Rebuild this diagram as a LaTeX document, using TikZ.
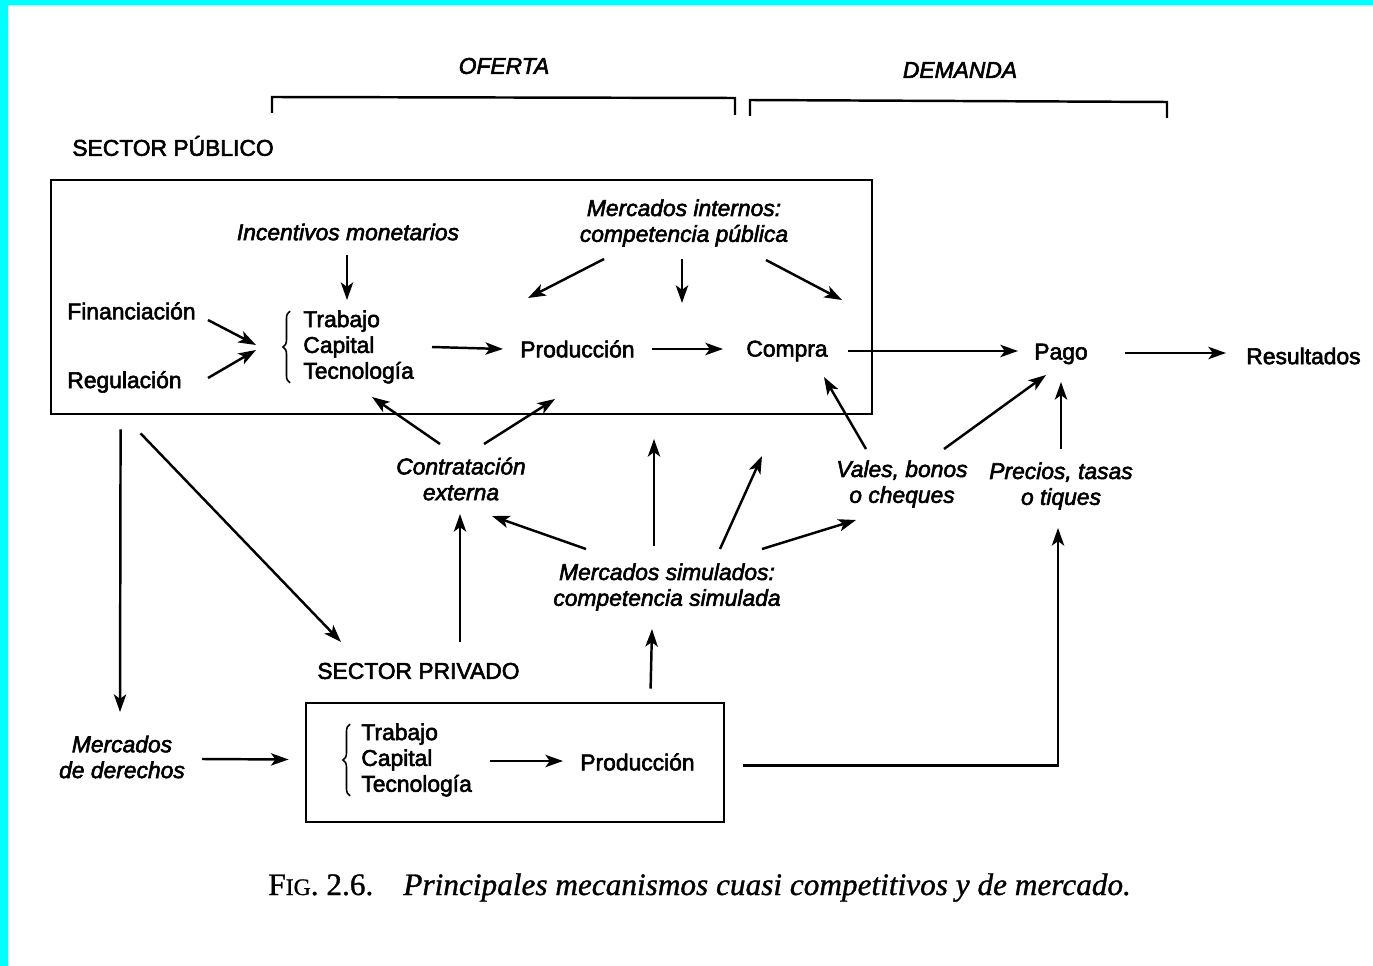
\documentclass[tikz,border=0pt]{standalone}
\usepackage{fontspec}
\setmainfont{Liberation Sans}[RawFeature={embolden=2.5}]
\newfontfamily\capfont{Liberation Serif}[RawFeature={embolden=1}]
\usetikzlibrary{arrows.meta,calc,fit,decorations.pathreplacing}
\definecolor{edge}{RGB}{0,255,255}

\begin{document}
\begin{tikzpicture}[x=0.02cm, y=-0.02cm,
    font=\fontsize{13pt}{14.7pt}\selectfont,
    txt/.style={inner sep=0pt},
    itx/.style={inner sep=0pt, align=center, font=\fontsize{13pt}{14.7pt}\selectfont\itshape},
    arr/.style={line width=1.4pt, -{Stealth[length=10pt,width=7pt,inset=2.5pt]}},
    box/.style={draw, line width=1.6pt, inner sep=0pt},
    brk/.style={line width=1.4pt},
    brc/.style={decorate, decoration={brace, amplitude=4pt}, line width=0.9pt}]
    \useasboundingbox (0,0) rectangle (1373,966);
    \fill[edge] (0,0) rectangle (1373,5);
    \fill[edge] (0,0) rectangle (8,966);

    \node[itx] (ofr) at (504,66) {OFERTA};
    \node[itx] (dem) at (960,70) {DEMANDA};
    \draw[brk] (272,113) -- (272,97) -- (735,98) -- (735,115);
    \draw[brk] (750,116) -- (750,100) -- (1167,102) -- (1167,118);

    \node[txt, anchor=west] (spub) at (72,146) {SECTOR PÚBLICO};
    \node[box, fit={(51,180) (872,414)}] (pub) {};
    \node[itx] (inc) at (348,232) {Incentivos monetarios};
    \node[itx] (mint) at (684,223) {Mercados internos:\\competencia pública};
    \node[txt, anchor=west] (fin) at (67,311) {Financiación};
    \node[txt, anchor=west] (reg) at (67,382) {Regulación};
    \node[txt, anchor=west, align=left] (tcap) at (303,347) {Trabajo\\Capital\\Tecnología};
    \draw[brc] ($(tcap.south west)+(-13,-1)$) -- ($(tcap.north west)+(-13,1)$);
    \node[txt, anchor=west] (prod) at (520,349) {Producción};
    \node[txt, anchor=west] (comp) at (746,351) {Compra};
    \node[txt] (pago) at (1061,354) {Pago};
    \node[txt, anchor=west] (res) at (1246,356) {Resultados};

    \node[itx] (cext) at (461,479) {Contratación\\externa};
    \node[itx] (vales) at (902,484) {Vales, bonos\\o cheques};
    \node[itx] (prec) at (1061,486) {Precios, tasas\\o tiques};
    \node[itx] (msim) at (667,587) {Mercados simulados:\\competencia simulada};

    \node[txt, anchor=west] (spriv) at (317,671) {SECTOR PRIVADO};
    \node[box, fit={(306,703) (724,822)}] (priv) {};
    \node[itx] (mder) at (122,757) {Mercados\\de derechos};
    \node[txt, anchor=west, align=left] (tcap2) at (361,760) {Trabajo\\Capital\\Tecnología};
    \draw[brc] ($(tcap2.south west)+(-11,-1)$) -- ($(tcap2.north west)+(-11,1)$);
    \node[txt, anchor=west] (prod2) at (580,762) {Producción};

    \draw[arr] ($(inc)+(-1,23)$) -- ($(tcap.west)+(44,-47)$);
    \draw[arr] ($(mint)+(-80,36)$) -- ($(prod.west)+(8,-51)$);
    \draw[arr] ($(mint)+(-2,36)$) -- ($(mint)+(-2,80)$);
    \draw[arr] ($(mint)+(82,37)$) -- ($(comp.west)+(96,-51)$);
    \draw[arr] ($(fin.west)+(141,9)$) -- ($(tcap.west)+(-47,-2)$);
    \draw[arr] ($(reg.west)+(141,-4)$) -- ($(tcap.west)+(-47,3)$);
    \draw[arr] ($(tcap.west)+(129,0)$) -- ($(prod.west)+(-17,0)$);
    \draw[arr] ($(prod.west)+(132,0)$) -- ($(comp.west)+(-23,-2)$);
    \draw[arr] ($(comp.west)+(102,0)$) -- ($(pago)+(-43,-3)$);
    \draw[arr] ($(pago)+(64,-1)$) -- ($(res.west)+(-20,-3)$);
    \draw[arr] ($(cext)+(-21,-35)$) -- ($(tcap.west)+(69,50)$);
    \draw[arr] ($(cext)+(23,-35)$) -- ($(prod.west)+(35,50)$);
    \draw[arr] ($(msim)+(-81,-38)$) -- ($(cext)+(31,37)$);
    \draw[arr] ($(msim)+(-13,-41)$) -- ($(msim)+(-13,-148)$);
    \draw[arr] ($(msim)+(53,-38)$) -- ($(msim)+(95,-131)$);
    \draw[arr] ($(msim)+(95,-38)$) -- ($(vales)+(-46,36)$);
    \draw[arr] ($(vales)+(-36,-35)$) -- ($(comp.west)+(78,26)$);
    \draw[arr] ($(vales)+(42,-35)$) -- ($(pago)+(-15,21)$);
    \draw[arr] ($(prec)+(0,-37)$) -- ($(pago)+(0,28)$);
    \draw[arr] ($(pub.south west)+(71,14)$) -- ($(mder)+(-2,-45)$);
    \draw[arr] ($(pub.south west)+(91,18)$) -- ($(spriv.west)+(24,-29)$);
    \draw[arr] ($(spriv.west)+(143,-29)$) -- ($(cext)+(-1,35)$);
    \draw[arr] ($(priv.north west)+(346,-13)$) -- ($(msim)+(-15,42)$);
    \draw[arr] ($(mder)+(80,2)$) -- ($(priv.west)+(-16,-3)$);
    \draw[arr] ($(tcap2.west)+(129,1)$) -- ($(prod2.west)+(-17,-1)$);
    \draw[arr] ($(priv.east)+(18,3)$) -| ($(prec)+(-3,42)$);

    \node[anchor=base west, inner sep=0pt, font=\capfont\fontsize{17.8pt}{20pt}\selectfont] (fig) at (268,895) {F{\fontsize{13.5pt}{15pt}\selectfont IG}. 2.6.};
    \node[anchor=base west, inner sep=0pt, font=\capfont\itshape\fontsize{17.8pt}{20pt}\selectfont] (figtxt) at (403,895) {Principales mecanismos cuasi competitivos y de mercado.};
\end{tikzpicture}
\end{document}
